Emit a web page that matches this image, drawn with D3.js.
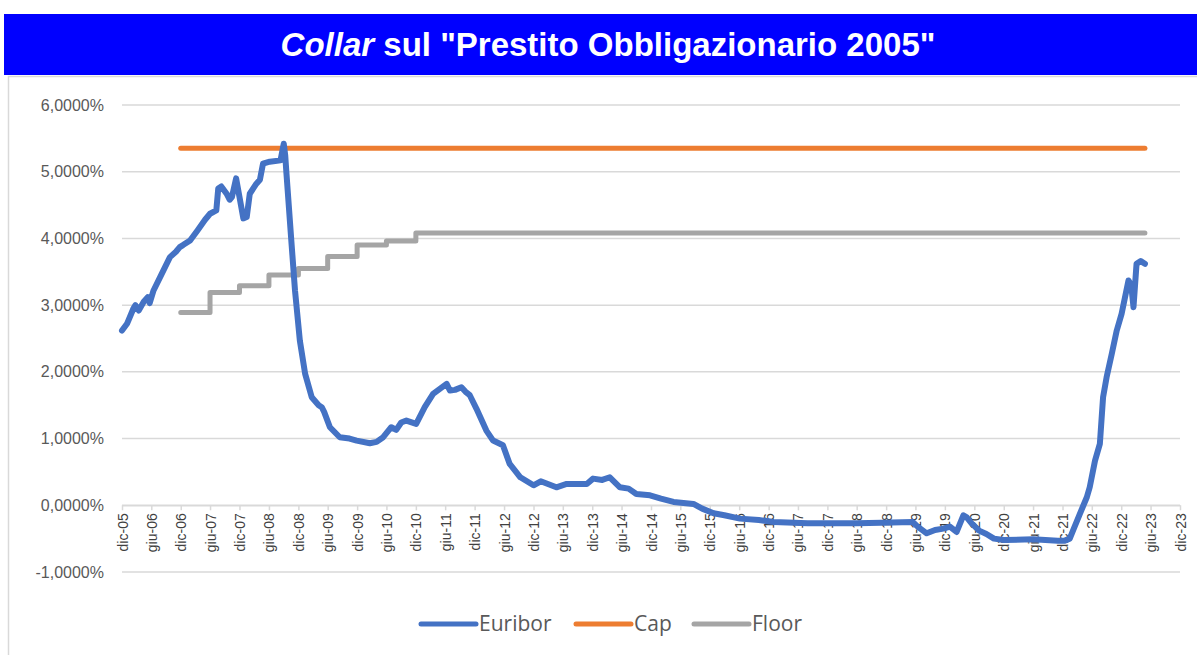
<!DOCTYPE html>
<html>
<head>
<meta charset="utf-8">
<script src="https://cdn.jsdelivr.net/npm/d3@7"></script>
<style>
  html, body { margin: 0; padding: 0; background: #ffffff; }
  svg { display: block; }
</style>
</head>
<body>
<svg id="chart" width="1197" height="655"></svg>
<script>
// ---------------- DATA ----------------
const titleItalic = "Collar";
const titleRest = " sul \"Prestito Obbligazionario 2005\"";

const seriesNames = ["Euribor", "Cap", "Floor"];
const seriesColors = ["#4472C4", "#ED7D31", "#A5A5A5"];

const euriborDates = [
  "2005-12-01","2006-01-01","2006-02-10","2006-02-22","2006-03-15","2006-04-15","2006-05-10","2006-05-22",
  "2006-06-15","2006-08-01","2006-09-25","2006-11-01","2006-11-25","2006-12-15","2007-01-28","2007-03-15",
  "2007-05-01","2007-06-01","2007-07-10","2007-07-22","2007-08-10","2007-09-12","2007-10-01","2007-10-15",
  "2007-11-10","2007-12-01","2007-12-25","2008-01-15","2008-02-03","2008-03-15","2008-04-06","2008-04-25",
  "2008-06-06","2008-08-12","2008-09-01","2008-09-10","2008-09-18","2008-10-18","2008-11-10","2008-12-10",
  "2009-01-12","2009-02-22","2009-04-06","2009-04-25","2009-05-10","2009-06-15","2009-08-15","2009-10-15",
  "2009-11-28","2010-02-18","2010-04-01","2010-05-12","2010-07-01","2010-08-01","2010-09-01","2010-10-03",
  "2010-12-03","2011-01-25","2011-03-18","2011-05-01","2011-06-10","2011-07-01","2011-08-01","2011-09-10",
  "2011-10-06","2011-11-01","2011-12-12","2012-02-12","2012-03-25","2012-05-25","2012-07-06","2012-09-10",
  "2012-12-01","2013-01-15","2013-04-22","2013-06-25","2013-10-28","2013-12-06","2014-02-01","2014-03-20",
  "2014-05-22","2014-07-15","2014-09-01","2014-11-25","2015-02-01","2015-04-20","2015-08-22","2015-10-15",
  "2015-12-25","2016-03-01","2016-06-06","2016-10-01","2017-01-01","2017-08-01","2018-06-01","2018-11-01",
  "2019-05-15","2019-06-15","2019-08-10","2019-10-01","2019-11-22","2020-01-01","2020-02-12","2020-03-25",
  "2020-04-15","2020-05-15","2020-07-01","2020-08-15","2020-10-01","2020-12-01","2021-06-01","2021-11-01",
  "2021-12-15","2022-01-15","2022-02-06","2022-03-15","2022-05-01","2022-05-19","2022-06-21","2022-07-21",
  "2022-08-10","2022-09-01","2022-10-03","2022-11-03","2022-12-03","2023-01-15","2023-02-01","2023-02-15",
  "2023-03-06","2023-04-01","2023-04-27"
];
const euriborValues = [
  2.62, 2.72, 2.95, 3.00, 2.92, 3.05, 3.12, 3.03,
  3.22, 3.45, 3.72, 3.80, 3.87, 3.90, 3.97, 4.12,
  4.28, 4.37, 4.42, 4.75, 4.78, 4.67, 4.58, 4.62,
  4.90, 4.62, 4.30, 4.32, 4.67, 4.82, 4.88, 5.12,
  5.15, 5.17, 5.42, 5.25, 4.97, 3.97, 3.22, 2.47,
  1.97, 1.62, 1.50, 1.47, 1.40, 1.17, 1.02, 1.00,
  0.97, 0.93, 0.95, 1.02, 1.17, 1.13, 1.24, 1.27,
  1.22, 1.47, 1.67, 1.75, 1.82, 1.72, 1.73, 1.77,
  1.70, 1.65, 1.45, 1.12, 0.97, 0.90, 0.62, 0.42,
  0.30, 0.36, 0.27, 0.32, 0.32, 0.40, 0.38, 0.42,
  0.27, 0.25, 0.17, 0.15, 0.10, 0.05, 0.02, -0.05,
  -0.12, -0.15, -0.20, -0.22, -0.25, -0.27, -0.27, -0.26,
  -0.25, -0.32, -0.42, -0.37, -0.35, -0.32, -0.40, -0.15,
  -0.18, -0.27, -0.38, -0.43, -0.50, -0.52, -0.51, -0.53,
  -0.53, -0.50, -0.37, -0.15, 0.12, 0.27, 0.67, 0.92,
  1.62, 1.92, 2.27, 2.62, 2.87, 3.37, 3.30, 2.97,
  3.62, 3.66, 3.62
];

const capDates = ["2006-12-01", "2023-04-27"];
const capValues = [5.35, 5.35];

const floorDates = ["2006-12-01","2007-06-01","2007-12-01","2008-06-01","2008-12-01","2009-06-01","2009-12-01","2010-06-01","2010-12-01","2023-04-27"];
const floorValues = [2.89, 3.19, 3.29, 3.45, 3.55, 3.73, 3.90, 3.96, 4.08, 4.08];

const yTicks = [-1, 0, 1, 2, 3, 4, 5, 6];
const monthAbbr = ["gen","feb","mar","apr","mag","giu","lug","ago","set","ott","nov","dic"];
const xStart = "2005-12-01";
const xEnd = "2023-12-01";

// ---------------- CHART ----------------
const parse = d3.timeParse("%Y-%m-%d");
const svg = d3.select("#chart");
const W = 1197, H = 655;

// frame
svg.append("rect").attr("x", 8.5).attr("y", 76.5).attr("width", W).attr("height", H)
  .attr("fill", "#ffffff").attr("stroke", "#d9d9d9").attr("stroke-width", 1.5);

// title bar
svg.append("rect").attr("x", 4).attr("y", 14).attr("width", W - 4).attr("height", 61).attr("fill", "#0000FF");
const title = svg.append("text").attr("x", 608).attr("y", 56).attr("text-anchor", "middle")
  .attr("fill", "#ffffff").attr("font-family", "'Liberation Sans', Arial, sans-serif")
  .attr("font-size", 33).attr("font-weight", "bold");
title.append("tspan").attr("font-style", "italic").text(titleItalic);
title.append("tspan").text(titleRest);

const x = d3.scaleTime().domain([parse(xStart), parse(xEnd)]).range([122, 1180]);
const y = d3.scaleLinear().domain([-1, 6]).range([572, 105]);

// gridlines
svg.append("g").selectAll("line").data(yTicks).join("line")
  .attr("x1", 122).attr("x2", 1180)
  .attr("y1", d => y(d)).attr("y2", d => y(d))
  .attr("stroke", "#d9d9d9").attr("stroke-width", 1.5);

// y axis labels
const locale = d3.formatLocale({decimal: ",", thousands: ".", grouping: [3], currency: ["", "€"], minus: "-"});
const fmtY = v => locale.format(".4f")(v) + "%";
const yAxis = d3.axisLeft(y).tickValues(yTicks).tickFormat(fmtY).tickSize(0).tickPadding(0);
const gy = svg.append("g").attr("transform", "translate(104,0)").call(yAxis);
gy.select(".domain").remove();
gy.selectAll("text").attr("fill", "#595959").attr("font-size", 16)
  .attr("font-family", "'Liberation Sans', Arial, sans-serif");

// x axis
const xTicks = d3.timeMonth.range(parse(xStart), d3.timeDay.offset(parse(xEnd), 1), 6);
const fmtX = d => monthAbbr[d.getMonth()] + "-" + d3.timeFormat("%y")(d);
const xAxis = d3.axisBottom(x).tickValues(xTicks).tickFormat(fmtX).tickSize(5).tickSizeOuter(0);
const gx = svg.append("g").attr("transform", `translate(0,${y(0)})`).call(xAxis);
gx.select(".domain").attr("stroke", "#d9d9d9").attr("stroke-width", 1.5);
gx.selectAll(".tick line").attr("stroke", "#d9d9d9").attr("stroke-width", 1.5);
gx.selectAll(".tick text")
  .attr("fill", "#404040").attr("font-size", 14)
  .attr("font-family", "'Liberation Sans', Arial, sans-serif")
  .attr("text-anchor", "end")
  .attr("dy", null)
  .attr("y", 0)
  .attr("transform", "translate(5,8) rotate(-90)");

// lines
const line = d3.line().x(d => x(d[0])).y(d => y(d[1]));
const stepLine = d3.line().x(d => x(d[0])).y(d => y(d[1])).curve(d3.curveStepAfter);

const floorData = floorDates.map((d, i) => [parse(d), floorValues[i]]);
const capData = capDates.map((d, i) => [parse(d), capValues[i]]);
const euData = euriborDates.map((d, i) => [parse(d), euriborValues[i]]);

svg.append("path").datum(floorData).attr("d", stepLine)
  .attr("fill", "none").attr("stroke", seriesColors[2]).attr("stroke-width", 5)
  .attr("stroke-linecap", "round").attr("stroke-linejoin", "round");
svg.append("path").datum(capData).attr("d", line)
  .attr("fill", "none").attr("stroke", seriesColors[1]).attr("stroke-width", 5)
  .attr("stroke-linecap", "round").attr("stroke-linejoin", "round");
svg.append("path").datum(euData).attr("d", line)
  .attr("fill", "none").attr("stroke", seriesColors[0]).attr("stroke-width", 6)
  .attr("stroke-linecap", "round").attr("stroke-linejoin", "round");

// legend
const legendX = [421, 576, 694];
const lg = svg.append("g");
seriesNames.forEach((name, i) => {
  lg.append("line").attr("x1", legendX[i]).attr("x2", legendX[i] + 55)
    .attr("y1", 624).attr("y2", 624)
    .attr("stroke", seriesColors[i]).attr("stroke-width", 5).attr("stroke-linecap", "round");
  lg.append("text").attr("x", legendX[i] + 58).attr("y", 631)
    .attr("fill", "#595959").attr("font-size", 21)
    .attr("font-family", "'Open Sans', 'Noto Sans', sans-serif")
    .text(name);
});
</script>
</body>
</html>
